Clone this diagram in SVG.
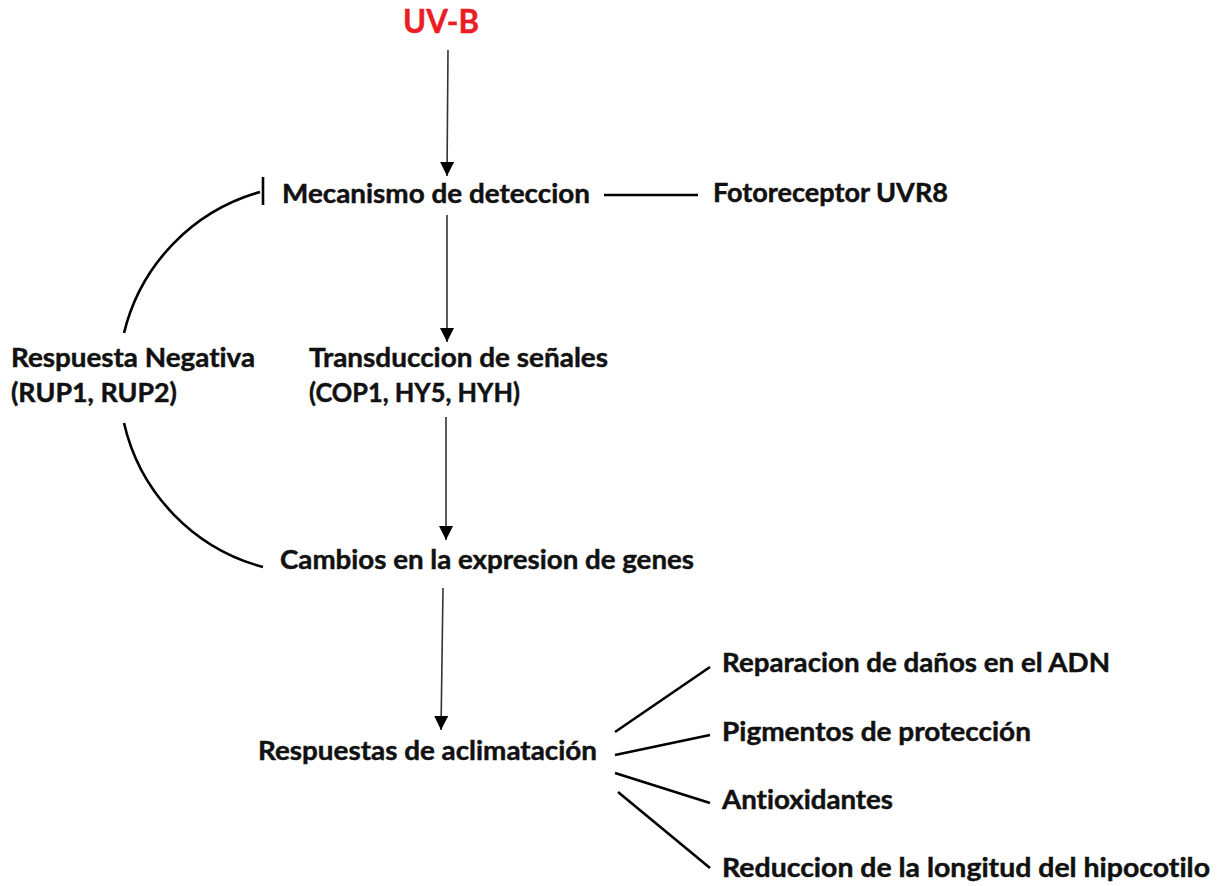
<svg xmlns="http://www.w3.org/2000/svg" width="1230" height="886" viewBox="0 0 1230 886">
  <style>
    .t { font-family: Lato, "Open Sans", "Liberation Sans", sans-serif; font-weight: 700; font-size: 26px; fill: #111; stroke: #111; stroke-width: 0.45; font-variant-ligatures: none; font-feature-settings: "liga" 0, "dlig" 0; }
    .red { fill: #ec1c24; stroke: #ec1c24; font-size: 32px; }
    .arrow { stroke: #333; stroke-width: 1.6; fill: none; marker-end: url(#ah); }
    .line { stroke: #000; stroke-width: 2.6; fill: none; }
  </style>
  <defs>
    <marker id="ah" markerUnits="userSpaceOnUse" markerWidth="14" markerHeight="14" viewBox="0 0 13 13" refX="13" refY="6.5" orient="auto">
      <path d="M0,0 L13,6.5 L0,13 z" fill="#000"/>
    </marker>
  </defs>
  <rect width="1230" height="886" fill="#fff"/>

  <g id="connectors">
    <line class="arrow" x1="448" y1="50" x2="447" y2="176"/>
    <line class="arrow" x1="447" y1="215" x2="447" y2="342"/>
    <line class="arrow" x1="446" y1="417" x2="446" y2="540"/>
    <line class="arrow" x1="443" y1="588" x2="441" y2="730"/>
    <line class="line" x1="604" y1="195" x2="698" y2="195"/>
    <path class="line" d="M260,192 A194,194 0 0 0 124,333"/>
    <line class="line" x1="263" y1="177" x2="263" y2="205"/>
    <path class="line" d="M124,423 A194,194 0 0 0 263,567"/>
    <line class="line" x1="615" y1="732" x2="710" y2="667"/>
    <line class="line" x1="615" y1="755" x2="710" y2="735"/>
    <line class="line" x1="615" y1="773" x2="710" y2="803"/>
    <line class="line" x1="618" y1="792" x2="710" y2="868"/>
  </g>

  <g id="uvb"><text class="t red" x="403" y="33" textLength="76" lengthAdjust="spacingAndGlyphs">UV-B</text></g>
  <g id="mecanismo"><text class="t" x="282" y="203" textLength="308" lengthAdjust="spacingAndGlyphs">Mecanismo de deteccion</text></g>
  <g id="fotoreceptor"><text class="t" x="713" y="202" textLength="235" lengthAdjust="spacingAndGlyphs">Fotoreceptor UVR8</text></g>
  <g id="respuesta-negativa">
    <text class="t" x="11" y="367" textLength="244" lengthAdjust="spacingAndGlyphs">Respuesta Negativa</text>
    <text class="t" x="11" y="402" textLength="166" lengthAdjust="spacingAndGlyphs">(RUP1, RUP2)</text>
  </g>
  <g id="transduccion">
    <text class="t" x="309" y="367" textLength="299" lengthAdjust="spacingAndGlyphs">Transduccion de señales</text>
    <text class="t" x="309" y="402" textLength="211" lengthAdjust="spacingAndGlyphs">(COP1, HY5, HYH)</text>
  </g>
  <g id="cambios"><text class="t" x="280" y="569" textLength="414" lengthAdjust="spacingAndGlyphs">Cambios en la expresion de genes</text></g>
  <g id="respuestas"><text class="t" x="258" y="760" textLength="339" lengthAdjust="spacingAndGlyphs">Respuestas de aclimatación</text></g>
  <g id="reparacion"><text class="t" x="722" y="672" textLength="388" lengthAdjust="spacingAndGlyphs">Reparacion de daños en el ADN</text></g>
  <g id="pigmentos"><text class="t" x="722" y="741" textLength="309" lengthAdjust="spacingAndGlyphs">Pigmentos de protección</text></g>
  <g id="antioxidantes"><text class="t" x="722" y="809" textLength="171" lengthAdjust="spacingAndGlyphs">Antioxidantes</text></g>
  <g id="reduccion"><text class="t" x="722" y="877" textLength="488" lengthAdjust="spacingAndGlyphs">Reduccion de la longitud del hipocotilo</text></g>
</svg>
